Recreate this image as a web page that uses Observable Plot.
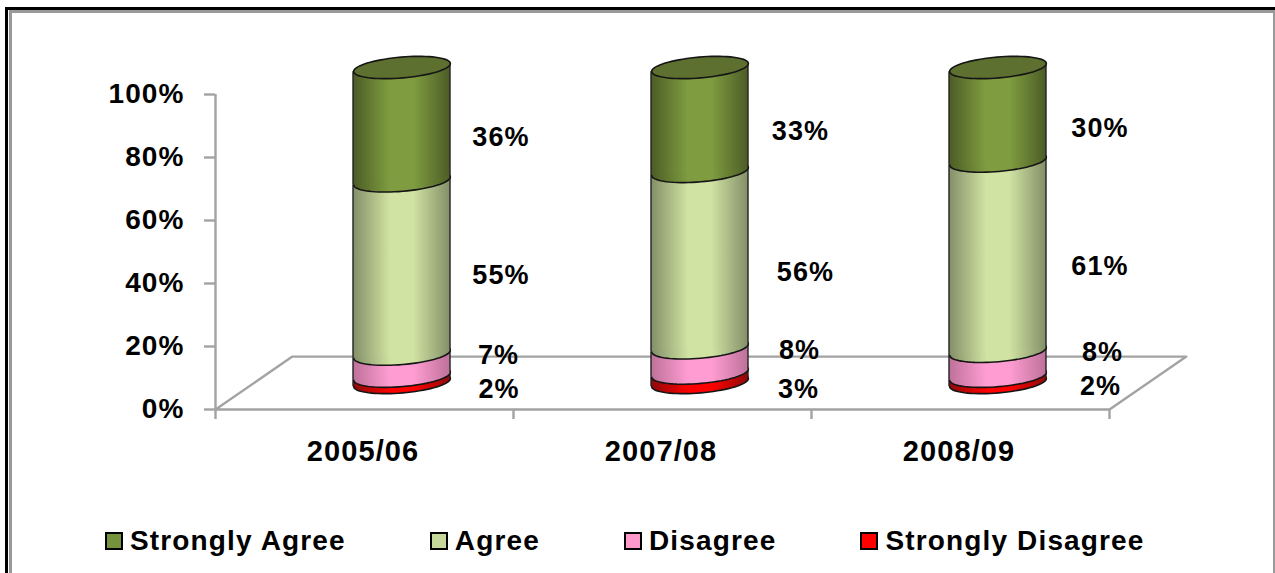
<!DOCTYPE html>
<html><head><meta charset="utf-8">
<script src="https://cdn.jsdelivr.net/npm/d3@7"></script>
<script src="https://cdn.jsdelivr.net/npm/@observablehq/plot@0.6"></script>
<style>
html,body{margin:0;padding:0;background:#fff;width:1275px;height:573px;overflow:hidden;font-family:"Liberation Sans",Arial,sans-serif}
#outer{position:absolute;left:5px;top:7px;width:1275px;height:580px;border-left:3px solid #000;border-top:3px solid #000;box-sizing:border-box}
#inner{position:absolute;left:9px;top:10px;width:1266px;height:580px;border-left:3px solid #999;border-top:3px solid #999;border-right:2px solid #999;box-sizing:border-box}
#chart{position:absolute;left:0;top:0}
#legend{position:absolute;left:105px;top:525px;display:flex;gap:84px;font-size:28px;font-weight:bold;letter-spacing:1.15px;color:#000;line-height:32px}
.item{display:flex;align-items:center;gap:7px}
.sw{width:14px;height:14px;border:2.5px solid #000;display:inline-block}
</style></head><body>
<div id="outer"></div><div id="inner"></div>
<div id="chart"></div>
<div id="legend"></div>
<script>
const categories = ["2005/06", "2007/08", "2008/09"];
const stronglyDisagree = [2, 3, 2];
const disagree = [7, 8, 8];
const agree = [55, 56, 61];
const stronglyAgree = [36, 33, 30];
const yTicks = [0, 20, 40, 60, 80, 100];

const series = [
  {name: "Strongly Disagree", values: stronglyDisagree, id: "gSD", swatch: "#ff0000", edge: "#8f0a0a", mid: "#ff0000"},
  {name: "Disagree", values: disagree, id: "gD", swatch: "#ff99cc", edge: "#bd7199", mid: "#ff9dd2"},
  {name: "Agree", values: agree, id: "gA", swatch: "#c6d79c", edge: "#838f68", mid: "#d0e3a2"},
  {name: "Strongly Agree", values: stronglyAgree, id: "gSA", swatch: "#76923c", edge: "#4c5c26", mid: "#7f9d40"}
];
const totals = categories.map((_, j) => d3.sum(series, s => s.values[j]));

// 100% stacking, bottom to top
const stacked = series.map(() => []);
categories.forEach((c, j) => {
  let acc = 0;
  series.forEach((s, i) => {
    const lo = acc / totals[j] * 100;
    acc += s.values[j];
    stacked[i].push({category: c, j, value: s.values[j], lo, hi: acc / totals[j] * 100});
  });
});

// cylinder drawing constants
const cylDx = 37.5, cylDy = -27, rx = 48.5, ry = 10.4, tiltDeg = -4.9;
const barInset = 100.5;
const ellipse = {
  draw(ctx) {
    const t = tiltDeg * Math.PI / 180, c = Math.cos(t), s = Math.sin(t), n = 72;
    for (let k = 0; k <= n; k++) {
      const a = 2 * Math.PI * k / n, ex = rx * Math.cos(a), ey = ry * Math.sin(a);
      const px = ex * c - ey * s, py = ex * s + ey * c;
      k ? ctx.lineTo(px, py) : ctx.moveTo(px, py);
    }
    ctx.closePath();
  }
};
function skewRender(index, scales, values, dims, ctx, next) {
  const g = next(index, scales, values, dims, ctx);
  g.querySelectorAll("rect").forEach(r => {
    const x = +r.getAttribute("x"), y = +r.getAttribute("y"),
          w = +r.getAttribute("width"), h = +r.getAttribute("height");
    const cx = x + w / 2, cy = y + h / 2;
    r.setAttribute("transform", `translate(${cx},${cy}) skewY(${tiltDeg}) translate(${-cx},${-cy})`);
    r.setAttribute("stroke-dasharray", `0 ${w} ${h} ${w} ${h}`);
  });
  return g;
}
const defs = () => {
  const d = d3.create("svg:defs");
  series.forEach(s => {
    const g = d.append("linearGradient").attr("id", s.id).attr("x1", 0).attr("x2", 1).attr("y1", 0).attr("y2", 0);
    [[0, s.edge], [.38, s.mid], [.62, s.mid], [1, s.edge]].forEach(([o, c]) =>
      g.append("stop").attr("offset", o).attr("stop-color", c));
  });
  return d.node();
};

const lineGray = "#a3a3a3";
const depthX = 0.258, depthY = 16.8;
const floor = [[0, 0], [depthX, depthY], [3 + depthX, depthY], [3, 0], [0, 0]];

const marks = [
  defs,
  Plot.line(floor, {x: d => d[0], y: d => d[1], stroke: lineGray, strokeWidth: 2.4}),
  Plot.ruleX([0], {y1: 0, y2: 100, stroke: lineGray, strokeWidth: 2.4}),
  Plot.axisY({ticks: yTicks, tickFormat: d => d + "%", tickSize: 11, tickPadding: 20, fontSize: 28, stroke: lineGray, strokeWidth: 2.4, color: "#000", label: null, textStyle: null, dy: 0}),
  Plot.axisX({ticks: [0, 1, 2, 3], tickFormat: () => "", tickSize: 10, stroke: lineGray, strokeWidth: 2.4, label: null}),
  Plot.text(categories, {x: (d, i) => i + 0.5, y: 0, text: d => d, dy: 42, dx: -1.5, fontSize: 29, fill: "#000"})
];
series.forEach((s, i) => {
  const common = {dx: cylDx, dy: cylDy};
  marks.push(
    Plot.dot(stacked[i], {x: d => d.j + 0.5, y: "lo", r: 3, symbol: ellipse, fill: `url(#${s.id})`, stroke: "#151515", strokeWidth: 1.6, ...common}),
    Plot.rect(stacked[i], {x1: "j", x2: d => d.j + 1, y1: "lo", y2: "hi", insetLeft: barInset, insetRight: barInset, fill: `url(#${s.id})`, stroke: "#222", strokeWidth: 1.4, render: skewRender, ...common})
  );
});
marks.push(Plot.dot(stacked[3], {x: d => d.j + 0.5, y: "hi", r: 3, symbol: ellipse, fill: "#5e702f", stroke: "#151515", strokeWidth: 1.6, dx: cylDx, dy: cylDy}));

// hand-placed data labels, as in the source chart: [dx, dy] from each segment's midpoint
const labelNudge = [
  [[134.5, -17], [136, -15], [140, -20]],
  [[134, -37], [137, -37], [142, -38]],
  [[136.5, -19], [143, -14], [139.5, -17]],
  [[136.5, -14], [138, -15], [139.5, -13]]
];
series.forEach((s, i) => stacked[i].forEach((d, j) => {
  marks.push(Plot.text([d], {
    x: p => p.j + 0.5, y: p => (p.lo + p.hi) / 2, text: p => p.value + "%",
    dx: labelNudge[i][j][0], dy: labelNudge[i][j][1], fontSize: 27, fill: "#000"
  }));
}));

const plot = Plot.plot({
  width: 1275, height: 520,
  marginLeft: 215, marginRight: 166, marginTop: 94, marginBottom: 111,
  x: {domain: [0, 3]},
  y: {domain: [0, 100]},
  style: {background: "transparent", fontFamily: "'Liberation Sans',Arial,sans-serif", fontWeight: "bold", overflow: "visible", letterSpacing: "1.1px"},
  marks
});
document.getElementById("chart").appendChild(plot);

const legend = d3.select("#legend");
[...series].reverse().forEach(s => {
  const it = legend.append("div").attr("class", "item");
  it.append("span").attr("class", "sw").style("background", s.swatch);
  it.append("span").text(s.name);
});
</script>
</body></html>
